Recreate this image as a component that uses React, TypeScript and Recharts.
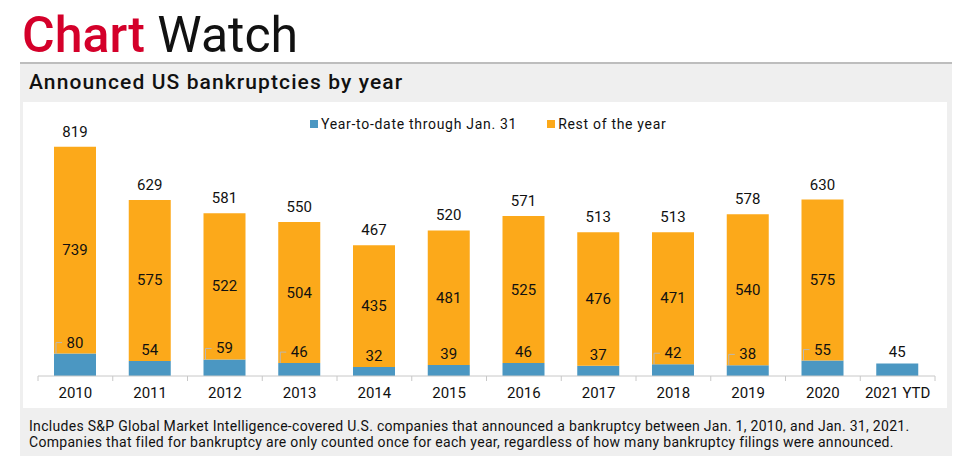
import React from 'react';
import { BarChart, Bar, XAxis, YAxis, LabelList } from 'recharts';

const categories = ['2010', '2011', '2012', '2013', '2014', '2015', '2016', '2017', '2018', '2019', '2020', '2021 YTD'];
const ytdValues = [80, 54, 59, 46, 32, 39, 46, 37, 42, 38, 55, 45];
const restValues: (number | null)[] = [739, 575, 522, 504, 435, 481, 525, 476, 471, 540, 575, null];
const totalValues: (number | null)[] = [819, 629, 581, 550, 467, 520, 571, 513, 513, 578, 630, null];
const leaderLineYears = ['2010', '2012', '2013', '2018', '2019', '2020'];

const seriesNames = { ytd: 'Year-to-date through Jan. 31', rest: 'Rest of the year' };

const data = categories.map((c, i) => ({
  year: c,
  ytd: ytdValues[i],
  rest: restValues[i],
  total: totalValues[i],
}));

const BLUE = '#4b97c2';
const ORANGE = '#fca91a';
const FONT = 'Roboto, "Liberation Sans", sans-serif';

const CHART_W = 924;
const CHART_H = 306;
const MARGIN = { top: 22, right: 12, bottom: 2, left: 15 };
const BAND = (CHART_W - MARGIN.left - MARGIN.right) / categories.length;

const Tick = (props: any) => {
  const { x, y, payload, index } = props;
  const left = x - BAND / 2;
  const right = x + BAND / 2;
  const axisY = y - 8;
  return (
    <g>
      <line x1={left} x2={left} y1={axisY} y2={axisY + 5} stroke="#c8c8c8" />
      {index === categories.length - 1 && (
        <line x1={right} x2={right} y1={axisY} y2={axisY + 5} stroke="#c8c8c8" />
      )}
      <text x={x} y={axisY + 17} textAnchor="middle" dominantBaseline="central" fontSize={15} fill="#111" fontFamily={FONT}>
        {payload.value}
      </text>
    </g>
  );
};

const YtdLabel = (props: any) => {
  const { x, y, width, value, index } = props;
  const cx = x + width / 2;
  const cy = y - 11;
  const hasLeader = leaderLineYears.includes(categories[index]);
  return (
    <g>
      {hasLeader && (
        <path d={`M${x + 2},${y} V${cy} H${x + 8}`} stroke="#b8b8b8" strokeWidth={1} fill="none" />
      )}
      <text x={cx} y={cy} textAnchor="middle" dominantBaseline="central" fontSize={15} fill="#111" fontFamily={FONT}>
        {value}
      </text>
    </g>
  );
};

const RestLabel = (props: any) => {
  const { x, y, width, height, value } = props;
  if (value == null) return null;
  return (
    <text x={x + width / 2} y={y + height / 2} textAnchor="middle" dominantBaseline="central" fontSize={15} fill="#111" fontFamily={FONT}>
      {value}
    </text>
  );
};

const TotalLabel = (props: any) => {
  const { x, y, width, value } = props;
  if (value == null) return null;
  return (
    <text x={x + width / 2} y={y - 15} textAnchor="middle" dominantBaseline="central" fontSize={15} fill="#111" fontFamily={FONT}>
      {value}
    </text>
  );
};

const LegendBox = () => (
  <div style={{ position: 'absolute', left: 287, top: 14, display: 'flex', alignItems: 'center', fontFamily: FONT, fontSize: 14, letterSpacing: 0.7, color: '#111', whiteSpace: 'nowrap' }}>
    <span style={{ width: 8, height: 8, background: BLUE, display: 'inline-block', marginRight: 3 }} />
    <span>{seriesNames.ytd}</span>
    <span style={{ width: 8, height: 8, background: ORANGE, display: 'inline-block', marginLeft: 30, marginRight: 3 }} />
    <span>{seriesNames.rest}</span>
  </div>
);

export default function App() {
  return (
    <div style={{ position: 'absolute', left: 0, top: 0, width: 966, height: 460, background: '#fff', fontFamily: FONT, overflow: 'hidden' }}>
      <div style={{ position: 'absolute', left: 22, top: 10, fontSize: 50, lineHeight: '50px', whiteSpace: 'nowrap' }}>
        <span style={{ color: '#d4002a', fontWeight: 500 }}>Chart</span>
        <span style={{ color: '#111', fontWeight: 400 }}> Watch</span>
      </div>
      <div style={{ position: 'absolute', left: 20, top: 62, width: 932, height: 394, background: '#efefef', borderTop: '2px solid #bdbdbd', boxSizing: 'border-box' }} />
      <div style={{ position: 'absolute', left: 29, top: 70, fontSize: 21, fontWeight: 500, lineHeight: '24px', color: '#111', letterSpacing: 1.1, whiteSpace: 'nowrap' }}>
        Announced US bankruptcies by year
      </div>
      <div style={{ position: 'absolute', left: 23, top: 102, width: CHART_W, height: CHART_H, background: '#fff' }}>
        <BarChart width={CHART_W} height={CHART_H} data={data} margin={MARGIN} barSize={42}>
          <XAxis dataKey="year" axisLine={{ stroke: '#c8c8c8' }} tickLine={false} tick={<Tick />} height={30} interval={0} />
          <YAxis hide domain={[0, 900]} />
          <Bar dataKey="ytd" stackId="a" fill={BLUE} isAnimationActive={false} name={seriesNames.ytd}>
            <LabelList dataKey="ytd" content={<YtdLabel />} />
          </Bar>
          <Bar dataKey="rest" stackId="a" fill={ORANGE} isAnimationActive={false} name={seriesNames.rest}>
            <LabelList dataKey="rest" content={<RestLabel />} />
            <LabelList dataKey="total" content={<TotalLabel />} />
          </Bar>
        </BarChart>
        <LegendBox />
      </div>
      <div style={{ position: 'absolute', left: 29, top: 418, fontSize: 14, lineHeight: '16px', letterSpacing: 0.3, color: '#111', whiteSpace: 'nowrap' }}>
        <div>Includes S&amp;P Global Market Intelligence-covered U.S. companies that announced a bankruptcy between Jan. 1, 2010, and Jan. 31, 2021.</div>
        <div>Companies that filed for bankruptcy are only counted once for each year, regardless of how many bankruptcy filings were announced.</div>
      </div>
    </div>
  );
}
